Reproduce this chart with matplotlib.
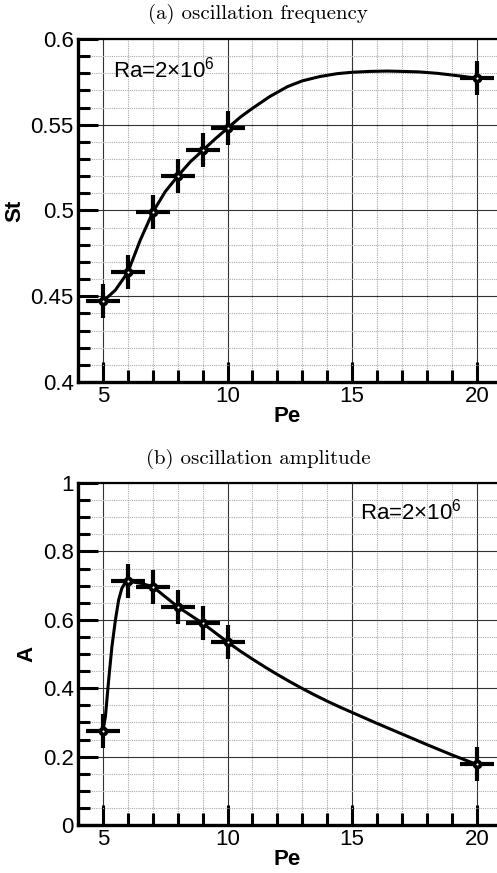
import matplotlib
matplotlib.use('Agg')
import matplotlib.pyplot as plt
from matplotlib.ticker import MultipleLocator

plt.rcParams['font.family'] = ['Liberation Sans', 'DejaVu Sans']
plt.rcParams['mathtext.fontset'] = 'custom'
plt.rcParams['mathtext.rm'] = 'Liberation Sans'

# data
pe = [5, 6, 7, 8, 9, 10, 20]
st = [0.447, 0.464, 0.499, 0.520, 0.535, 0.548, 0.577]
amp = [0.275, 0.713, 0.697, 0.638, 0.590, 0.535, 0.177]

# fitted curves
st_curve_pe = [5.0, 5.5, 6.0, 6.5, 7.0, 7.5, 8.0, 8.5, 9.0, 9.5, 10.0, 10.5, 11.0,
               11.7, 12.4, 13.0, 13.7, 14.4, 15.0, 15.7, 16.4, 17.0, 17.7, 18.4,
               19.0, 19.5, 20.0]
st_curve = [0.447, 0.4536, 0.464, 0.4828, 0.499, 0.511, 0.520, 0.5283, 0.535, 0.5417,
            0.548, 0.5543, 0.5596, 0.5665, 0.5722, 0.5756, 0.5781, 0.5798, 0.5806,
            0.5811, 0.5813, 0.5811, 0.5808, 0.5800, 0.5790, 0.5781, 0.577]

amp_curve_pe = [5.0, 5.1, 5.23, 5.36, 5.5, 5.63, 5.76, 5.9, 6.0, 6.5, 7.0, 8.0, 9.0,
                10.0, 10.5, 11.0, 11.5, 12.0, 12.5, 13.0, 13.5, 14.0, 14.5, 15.0,
                16.0, 17.0, 18.0, 19.0, 20.0]
amp_curve = [0.275, 0.317, 0.424, 0.521, 0.599, 0.658, 0.692, 0.709, 0.713, 0.707,
             0.697, 0.638, 0.590, 0.535, 0.509, 0.485, 0.462, 0.440, 0.419, 0.399,
             0.380, 0.362, 0.345, 0.329, 0.297, 0.266, 0.235, 0.205, 0.177]

W, H = 497, 873
fig = plt.figure(figsize=(W / 100, H / 100), dpi=100)


def style_axes(ax, ymin, ymax, ymaj, ymin_step):
    ax.set_xlim(4, 20.81)
    ax.set_ylim(ymin, ymax)
    ax.xaxis.set_major_locator(MultipleLocator(5))
    ax.xaxis.set_minor_locator(MultipleLocator(1))
    ax.yaxis.set_major_locator(MultipleLocator(ymaj))
    ax.yaxis.set_minor_locator(MultipleLocator(ymin_step))
    ax.grid(which='major', color='#333333', lw=0.8, ls='-')
    ax.grid(which='minor', color='#aaaaaa', lw=0.8, ls=(0, (1, 1)))
    ax.set_axisbelow(True)
    ax.tick_params(which='both', direction='in', width=2.2, top=False, right=False,
                   labelsize=16, pad=3)
    ax.tick_params(which='major', length=14.4)
    ax.tick_params(which='minor', length=8.6)
    ax.spines['right'].set_visible(False)
    ax.spines['left'].set_linewidth(2.4)
    ax.spines['bottom'].set_linewidth(2.4)
    ax.spines['top'].set_linewidth(1.6)
    ax.set_xlabel('Pe', fontsize=16, fontweight='bold', labelpad=-1)


def draw(ax, cx, cy, px, py):
    ax.plot(cx, cy, color='black', lw=2.2, zorder=3)
    ax.plot(px, py, ls='none', marker='+', ms=24.5, mew=3, color='black', zorder=4)
    ax.plot(px, py, ls='none', marker='o', ms=6, mfc='black', mec='black', zorder=5)
    ax.plot(px, py, ls='none', marker='o', ms=1.0, mfc='white', mec='white', mew=0.5,
            zorder=6)


# (a) oscillation frequency
ax1 = fig.add_axes([78 / W, (H - 382) / H, 419 / W, 343 / H])
style_axes(ax1, 0.4, 0.6, 0.05, 0.01)
ax1.set_yticks([0.4, 0.45, 0.5, 0.55, 0.6])
ax1.set_yticklabels(['0.4', '0.45', '0.5', '0.55', '0.6'])
draw(ax1, st_curve_pe, st_curve, pe, st)
ax1.set_ylabel('St', fontsize=16, fontweight='bold', labelpad=4)
fig.text(113 / W, 1 - 70 / H, r'Ra=2$\times$10$^{6}$', fontsize=16, va='center',
         ha='left')
fig.text(258 / W, 1 - 14 / H, '(a) oscillation frequency', family='cmr10',
         fontsize=15, ha='center', va='center')

# (b) oscillation amplitude
ax2 = fig.add_axes([78 / W, (H - 825) / H, 419 / W, 342 / H])
style_axes(ax2, 0, 1, 0.2, 0.05)
ax2.set_yticks([0, 0.2, 0.4, 0.6, 0.8, 1.0])
ax2.set_yticklabels(['0', '0.2', '0.4', '0.6', '0.8', '1'])
draw(ax2, amp_curve_pe, amp_curve, pe, amp)
ax2.set_ylabel('A', fontsize=16, fontweight='bold', labelpad=4)
fig.text(258 / W, 1 - 459 / H, '(b) oscillation amplitude', family='cmr10',
         fontsize=15, ha='center', va='center')
fig.text(360 / W, 1 - 512 / H, r'Ra=2$\times$10$^{6}$', fontsize=16, va='center',
         ha='left')

fig.savefig('out.png', dpi=100)
